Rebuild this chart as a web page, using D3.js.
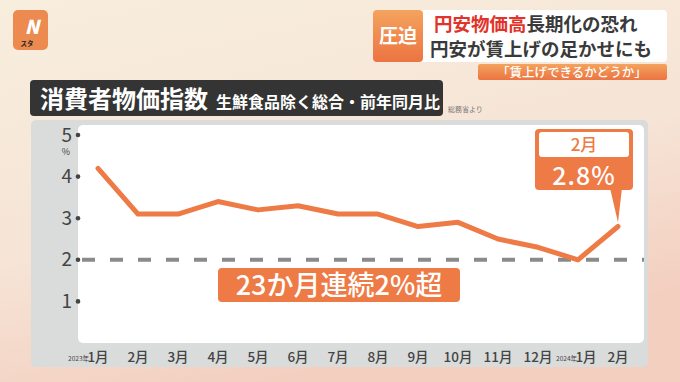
<!DOCTYPE html>
<meta charset="utf-8">
<style>
body { margin: 0; font-family: "Noto Sans CJK JP", "Noto Sans", sans-serif; }
svg { display: block; }
</style>
<svg id="cpi" width="680" height="382"></svg>
<script src="https://cdn.jsdelivr.net/npm/d3@7"></script>
<script>
// 消費者物価指数 (生鮮食品除く総合) 前年同月比, %
var months = ["1月", "2月", "3月", "4月", "5月", "6月", "7月", "8月", "9月", "10月", "11月", "12月", "1月", "2月"];
var yearTags = ["2023年", "", "", "", "", "", "", "", "", "", "", "", "2024年", ""];
var cpi = [4.2, 3.1, 3.1, 3.4, 3.2, 3.3, 3.1, 3.1, 2.8, 2.9, 2.5, 2.3, 2.0, 2.8];
var yTicks = [1, 2, 3, 4, 5];
var threshold = 2;

var svg = d3.select("#cpi"),
    width = 680, height = 382;
var orange = "#ee7a45", ink = "#3a3a3a";

var defs = svg.append("defs");
var bg = defs.append("linearGradient").attr("id", "bg")
    .attr("x1", 0).attr("y1", 0).attr("x2", 0.4).attr("y2", 1);
bg.append("stop").attr("offset", 0).attr("stop-color", "#f8eedd");
bg.append("stop").attr("offset", 0.6).attr("stop-color", "#f6e4d6");
bg.append("stop").attr("offset", 1).attr("stop-color", "#f3cfc0");
var og = defs.append("linearGradient").attr("id", "og")
    .attr("x1", 0).attr("y1", 0).attr("x2", 0).attr("y2", 1);
og.append("stop").attr("offset", 0).attr("stop-color", "#f4a35e");
og.append("stop").attr("offset", 1).attr("stop-color", "#ec7442");

svg.append("rect").attr("width", width).attr("height", height).attr("fill", "url(#bg)");

// logo
svg.append("rect").attr("x", 13).attr("y", 10).attr("width", 35).attr("height", 40).attr("rx", 5).attr("fill", "#ec8a50");
svg.append("text").attr("x", 32).attr("y", 34).attr("text-anchor", "middle")
    .attr("font-size", 19).attr("font-weight", 900).attr("font-style", "italic").attr("fill", "#fff").text("N");
svg.append("text").attr("x", 27).attr("y", 46).attr("text-anchor", "middle")
    .attr("font-size", 6.5).attr("font-weight", 700).attr("fill", "#222").text("スタ");

// headline block
svg.append("rect").attr("x", 373).attr("y", 10).attr("width", 294).attr("height", 52).attr("rx", 4).attr("fill", "#fff");
svg.append("rect").attr("x", 373).attr("y", 10).attr("width", 50).attr("height", 52).attr("rx", 4).attr("fill", "url(#og)");
svg.append("text").attr("x", 398).attr("y", 43).attr("text-anchor", "middle")
    .attr("font-size", 19).attr("font-weight", 700).attr("fill", "#fff").text("圧迫");
var h1 = svg.append("text").attr("x", 434).attr("y", 31).attr("font-size", 18.5).attr("font-weight", 700).attr("fill", ink);
h1.append("tspan").attr("fill", "#e2332a").text("円安物価高");
h1.append("tspan").text("長期化の恐れ");
svg.append("text").attr("x", 430).attr("y", 56).attr("font-size", 18.5).attr("font-weight", 700).attr("fill", ink)
    .text("円安が賃上げの足かせにも");
svg.append("rect").attr("x", 478).attr("y", 64).attr("width", 189).attr("height", 16).attr("rx", 2).attr("fill", "url(#og)");
svg.append("text").attr("x", 572).attr("y", 77).attr("text-anchor", "middle")
    .attr("font-size", 12.5).attr("font-weight", 500).attr("fill", "#fff").text("「賃上げできるかどうか」");

// panel
svg.append("rect").attr("x", 31).attr("y", 120).attr("width", 617).attr("height", 247).attr("rx", 5).attr("fill", "#d9dcdb");
svg.append("rect").attr("x", 78).attr("y", 125).attr("width", 566).attr("height", 218).attr("rx", 5).attr("fill", "#fff");

// title bar
svg.append("rect").attr("x", 30).attr("y", 80).attr("width", 413).attr("height", 36).attr("rx", 4).attr("fill", "#343434");
var tt = svg.append("text").attr("x", 40).attr("y", 108).attr("fill", "#fff").attr("font-weight", 700);
tt.append("tspan").attr("font-size", 24).text("消費者物価指数");
tt.append("tspan").attr("dx", 8).attr("font-size", 16).text("生鮮食品除く総合・前年同月比");
svg.append("text").attr("x", 448).attr("y", 112).attr("font-size", 7).attr("fill", "#777").text("総務省より");

// scales
var x = d3.scaleLinear().domain([0, months.length - 1]).range([98, 618]);
var y = d3.scaleLinear().domain([0, 5]).range([343, 135]);

// y axis: dots + numbers
var yAxis = svg.append("g");
yAxis.selectAll("circle").data(yTicks).enter().append("circle")
    .attr("cx", 78).attr("cy", function(d){return y(d);}).attr("r", 2.3).attr("fill", "#444");
yAxis.selectAll("text").data(yTicks).enter().append("text")
    .attr("x", 72).attr("y", function(d){return y(d) + 6.5;}).attr("text-anchor", "end")
    .attr("font-size", 19).attr("fill", "#444").text(function(d){return d;});
svg.append("text").attr("x", 66).attr("y", 155).attr("text-anchor", "middle")
    .attr("font-size", 9).attr("fill", "#444").text("%");

// x axis labels (the mid-series year label is nudged right to clear 12月)
function labelX(i) { return x(i) + (yearTags[i] && i > 0 ? 8 : 0); }
var xAxis = svg.append("g").selectAll("g").data(months).enter().append("g");
xAxis.append("text").attr("x", function(d, i){return labelX(i);}).attr("y", 362)
    .attr("text-anchor", "middle").attr("font-size", 13.5).attr("font-weight", 500).attr("fill", "#444")
    .text(function(d){return d;});
xAxis.append("text").attr("x", function(d, i){return labelX(i) - 9;}).attr("y", 361)
    .attr("text-anchor", "end").attr("font-size", 6.5).attr("fill", "#444")
    .text(function(d, i){return yearTags[i];});

// 2% reference line
svg.append("line").attr("x1", 82).attr("x2", 644).attr("y1", y(threshold)).attr("y2", y(threshold))
    .attr("stroke", "#8a8a8a").attr("stroke-width", 4).attr("stroke-dasharray", "13,15");

// series line
var line = d3.line().x(function(d, i){return x(i);}).y(function(d){return y(d);});
svg.append("path").datum(cpi).attr("d", line).attr("fill", "none")
    .attr("stroke", orange).attr("stroke-width", 5).attr("stroke-linejoin", "round").attr("stroke-linecap", "round");

// 23か月連続2%超 label
svg.append("rect").attr("x", 218).attr("y", 268).attr("width", 242).attr("height", 34).attr("rx", 4).attr("fill", orange);
svg.append("text").attr("x", 339).attr("y", 295).attr("text-anchor", "middle")
    .attr("font-size", 27).attr("font-weight", 500).attr("fill", "#fff").text("23か月連続2%超");

// callout for latest value
var last = cpi.length - 1, lx = x(last), ly = y(cpi[last]);
svg.append("path").attr("d", "M" + (lx - 8) + ",188 L" + lx + "," + (ly - 4) + " L" + (lx + 4) + ",188 Z").attr("fill", orange);
svg.append("rect").attr("x", 535).attr("y", 129).attr("width", 98).attr("height", 61).attr("rx", 4).attr("fill", orange);
svg.append("rect").attr("x", 539).attr("y", 132).attr("width", 90).attr("height", 25).attr("rx", 3).attr("fill", "#fff");
svg.append("text").attr("x", 584).attr("y", 151).attr("text-anchor", "middle")
    .attr("font-size", 17).attr("font-weight", 500).attr("fill", orange).text(months[last]);
svg.append("text").attr("x", 584).attr("y", 185).attr("text-anchor", "middle")
    .attr("font-size", 25).attr("font-weight", 500).attr("fill", "#fff").attr("letter-spacing", 1)
    .text(cpi[last].toFixed(1) + "%");
</script>
